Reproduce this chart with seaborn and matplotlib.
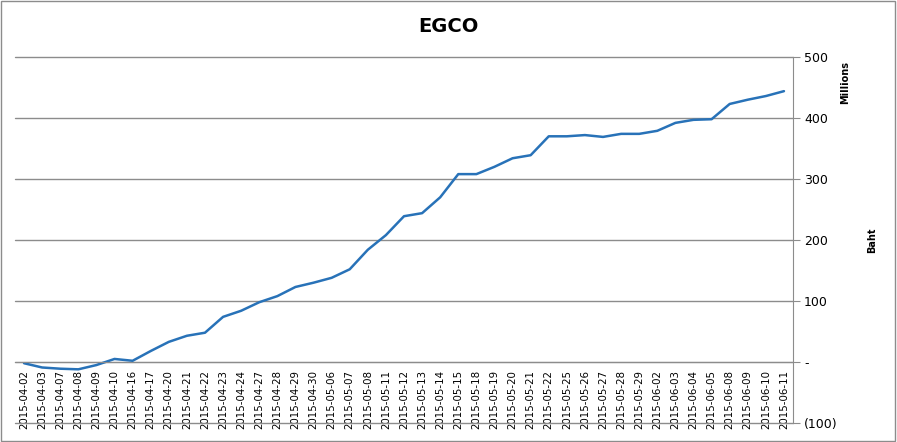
import numpy as np
import pandas as pd
import matplotlib
matplotlib.use('Agg')
import matplotlib.pyplot as plt
import seaborn as sns
from matplotlib.patches import Rectangle
from matplotlib.ticker import FuncFormatter

dates = ['2015-04-02', '2015-04-03', '2015-04-07', '2015-04-08', '2015-04-09', '2015-04-10',
         '2015-04-16', '2015-04-17', '2015-04-20', '2015-04-21', '2015-04-22', '2015-04-23',
         '2015-04-24', '2015-04-27', '2015-04-28', '2015-04-29', '2015-04-30', '2015-05-06',
         '2015-05-07', '2015-05-08', '2015-05-11', '2015-05-12', '2015-05-13', '2015-05-14',
         '2015-05-15', '2015-05-18', '2015-05-19', '2015-05-20', '2015-05-21', '2015-05-22',
         '2015-05-25', '2015-05-26', '2015-05-27', '2015-05-28', '2015-05-29', '2015-06-02',
         '2015-06-03', '2015-06-04', '2015-06-05', '2015-06-08', '2015-06-09', '2015-06-10',
         '2015-06-11']
# cumulative value, millions of baht
values = [-2, -9, -11, -12, -5, 5, 2, 18, 33, 43, 48, 74, 84, 98, 108, 123, 130, 138,
          152, 184, 208, 239, 244, 270, 308, 308, 320, 334, 339, 370, 370, 372, 369, 374,
          374, 379, 392, 397, 398, 423, 430, 436, 444]
yticks = [-100, 0, 100, 200, 300, 400, 500]

df = pd.DataFrame({'date': dates, 'value': values})

sns.set_style('white')
plt.rcParams['font.family'] = ['DejaVu Sans']
plt.rcParams['text.color'] = 'black'
plt.rcParams['xtick.color'] = 'black'
plt.rcParams['ytick.color'] = 'black'

fig = plt.figure(figsize=(8.97, 4.42), dpi=100)
ax = fig.add_axes([15 / 897, 1 - 423 / 442, (793 - 15) / 897, (423 - 57) / 442])

sns.lineplot(data=df, x='date', y='value', ax=ax, color='#2872b8', linewidth=1.8, sort=False)

n = len(dates)
ax.set_xlim(-0.5, n - 0.5)
ax.set_ylim(-100, 500)

grid_c = '#8c8c8c'
ax.yaxis.tick_right()
ax.set_yticks(yticks)
ax.yaxis.set_major_formatter(FuncFormatter(
    lambda v, p: '-' if v == 0 else ('(%d)' % abs(v) if v < 0 else '%d' % v)))
ax.tick_params(axis='y', length=5, color=grid_c, labelcolor='black', labelsize=9, pad=3,
               direction='out')
ax.grid(axis='y', color=grid_c, linewidth=1)
ax.grid(axis='x', visible=False)
for gl in ax.get_ygridlines():
    gl.set_clip_on(False)

ax.set_xticks(range(n))
ax.set_xticklabels(dates)
ax.set_xticks(np.arange(-0.5, n), minor=True)
ax.tick_params(axis='x', which='major', length=0, pad=6, labelrotation=90,
               labelcolor='black', labelsize=7.4)
ax.tick_params(axis='x', which='minor', length=5, color=grid_c, direction='out')

for s in ['left', 'top']:
    ax.spines[s].set_visible(False)
ax.spines['bottom'].set_position(('data', 0))
ax.spines['bottom'].set_color(grid_c)
ax.spines['right'].set_color(grid_c)
ax.set_xlabel('')
ax.set_ylabel('')

fig.text(0.5, 1 - 27 / 442, 'EGCO', ha='center', va='center', fontsize=14, fontweight='bold')
fig.text(845 / 897, 1 - 82 / 442, 'Millions', rotation=90, ha='center', va='center',
         fontsize=7, fontweight='bold')
fig.text(872 / 897, 1 - 240 / 442, 'Baht', rotation=90, ha='center', va='center',
         fontsize=7, fontweight='bold')

fig.patches.append(Rectangle((0.001, 0.002), 0.997, 0.996, transform=fig.transFigure,
                             fill=False, edgecolor='#8c8c8c', linewidth=1))

fig.savefig('out.png', dpi=100)
